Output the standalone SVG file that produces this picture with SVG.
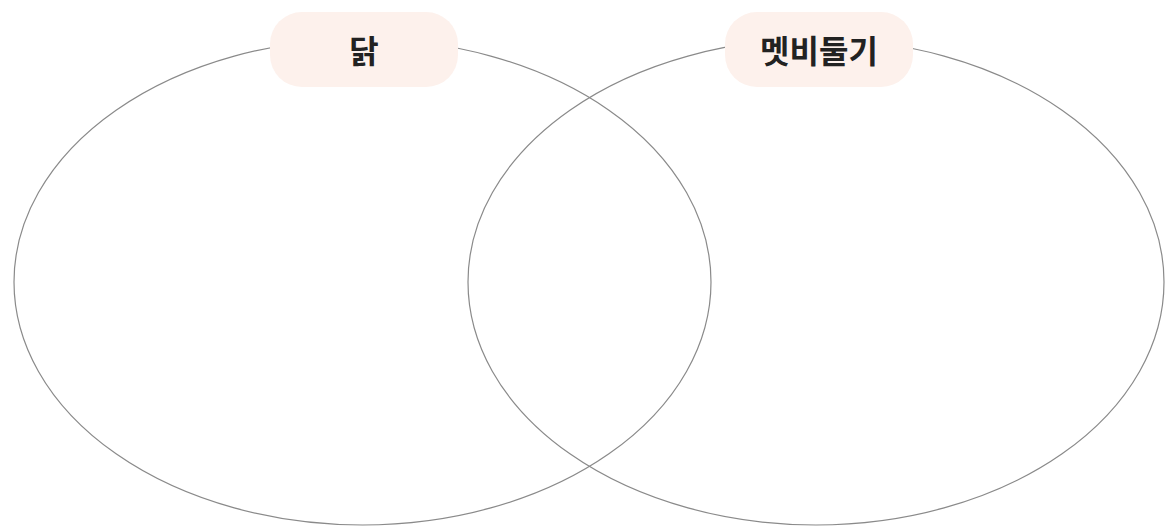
<svg xmlns="http://www.w3.org/2000/svg" width="1165" height="527" viewBox="0 0 1165 527">
<style>
.set{fill:none;stroke:#8a8a8a;stroke-width:1.2}
.pill{fill:#fdf1ec}
.lbl{font-family:"Noto Sans CJK KR","Noto Sans",sans-serif;font-weight:bold;font-size:32px;fill:#222;text-anchor:middle;dominant-baseline:central}
</style>
<rect width="1165" height="527" fill="#fff"/>
<g id="connectors"></g>
<g id="set-chicken"><ellipse class="set" cx="362.5" cy="282" rx="348.5" ry="243"/></g>
<g id="set-pigeon"><ellipse class="set" cx="816" cy="282" rx="348" ry="243"/></g>
<g id="label-chicken"><rect class="pill" x="270" y="12" width="188" height="75" rx="32"/><text class="lbl" x="364" y="49">닭</text></g>
<g id="label-pigeon"><rect class="pill" x="725" y="12" width="188" height="75" rx="32"/><text class="lbl" x="819" y="49">멧비둘기</text></g>
</svg>
